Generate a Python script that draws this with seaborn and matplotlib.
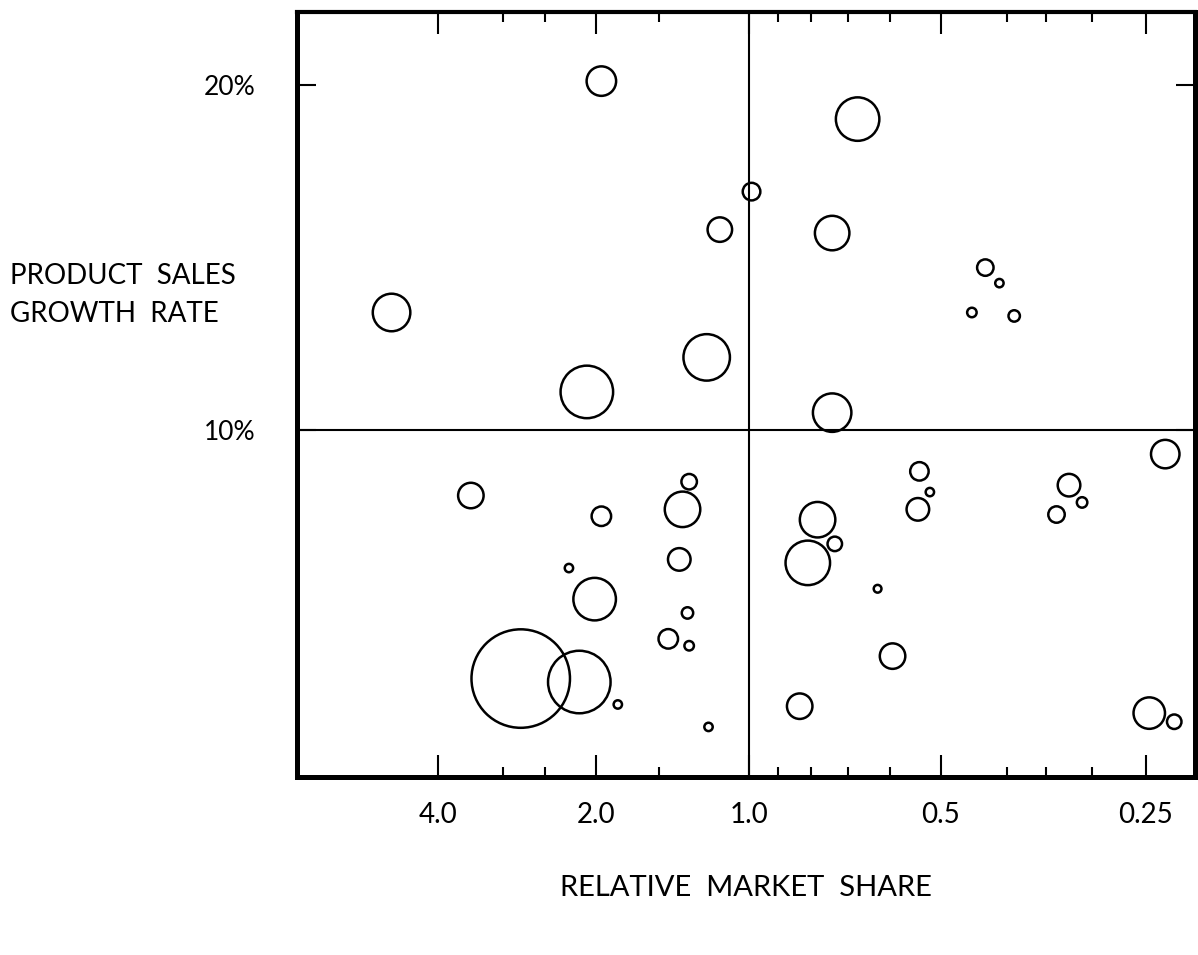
import numpy as np
import pandas as pd
import matplotlib
matplotlib.use("Agg")
import matplotlib.pyplot as plt
import seaborn as sns
from matplotlib.ticker import FixedLocator, FixedFormatter, NullFormatter

"""
Growth-share matrix: product sales growth vs relative market share,
bubble area ~ product sales.
"""

# data
share = [1.95, 0.99, 1.14, 4.9, 2.08, 1.21, 0.675, 0.74, 0.43, 0.41, 0.45, 0.39, 0.74,
         3.46, 1.95, 1.31, 1.35, 1.37, 2.25, 2.01, 1.32, 1.44, 1.31, 2.78, 2.15, 1.81, 1.20,
         0.234, 0.54, 0.52, 0.543, 0.324, 0.31, 0.338, 0.78, 0.733, 0.808, 0.628, 0.595,
         0.832, 0.247, 0.227]
growth = [20.1, 16.9, 15.8, 13.4, 11.1, 12.1, 19.0, 15.7, 14.7, 14.25, 13.4, 13.3, 10.5,
          8.1, 7.5, 8.5, 7.7, 6.25, 6.0, 5.1, 4.7, 3.95, 3.75, 2.8, 2.7, 2.05, 1.4,
          9.3, 8.8, 8.2, 7.7, 8.4, 7.9, 7.55, 7.4, 6.7, 6.15, 5.4, 3.45, 2.0, 1.8, 1.55]
sales = [8.7, 3.1, 6.0, 14.1, 27.6, 21.6, 18.9, 11.9, 2.7, 0.7, 0.9, 1.3, 14.8,
         6.5, 3.8, 2.4, 12.6, 5.1, 0.7, 18.1, 1.3, 3.8, 0.9, 97.0, 39.1, 0.7, 0.7,
         8.1, 3.4, 0.7, 5.1, 5.1, 1.1, 2.7, 12.6, 2.1, 19.8, 0.6, 6.5, 6.5, 9.9, 2.1]

share_ticks = [4.0, 2.0, 1.0, 0.5, 0.25]
share_labels = ["4.0", "2.0", "1.0", "0.5", "0.25"]
share_minor = [3.0, 2.5, 1.5, 0.9, 0.8, 0.7, 0.6, 0.4, 0.35, 0.3]
growth_ticks = [10, 20]
growth_labels = ["10%", "20%"]

df = pd.DataFrame({"share": share, "growth": growth, "sales": sales})

# hand-drawn share axis: roughly log, but each octave has its own length
knot_log2 = np.array([-30.0, -2.0, -1.0, 0.0, 1.0, 2.0, 30.0])
knot_pos = np.array([1146 + 28 * 205, 1146, 941, 749, 596, 438, 438 - 28 * 158], float)


def fwd(x):
    x = np.asarray(x, float)
    with np.errstate(divide="ignore", invalid="ignore"):
        lx = np.log2(np.clip(x, 1e-9, None))
    return -np.interp(lx, knot_log2, knot_pos)


def inv(u):
    u = -np.asarray(u, float)
    return 2.0 ** np.interp(u, knot_pos[::-1], knot_log2[::-1])


sns.set_theme(style="white")
plt.rcParams["font.family"] = ["Lato", "DejaVu Sans"]
plt.rcParams["text.color"] = "black"
plt.rcParams["axes.labelcolor"] = "black"
plt.rcParams["xtick.color"] = "black"
plt.rcParams["ytick.color"] = "black"

fig = plt.figure(figsize=(11.98, 9.55), dpi=100)
ax = fig.add_axes([0.2479, 0.1864, 0.7496, 0.8010])
ax.set_xscale("function", functions=(fwd, inv))

ax.axvline(1.0, color="black", lw=1.5, zorder=1)
ax.axhline(10, color="black", lw=1.5, zorder=1)

sns.scatterplot(data=df, x="share", y="growth", size="sales",
                sizes=(0, 5184), size_norm=(0, 100), legend=False,
                facecolor="none", edgecolor="black", linewidth=1.8,
                ax=ax, zorder=3)

ax.set_xlim(7.42, 0.2116)
ax.set_ylim(-0.05, 22.1)

ax.xaxis.set_major_locator(FixedLocator(share_ticks))
ax.xaxis.set_major_formatter(FixedFormatter(share_labels))
ax.xaxis.set_minor_locator(FixedLocator(share_minor))
ax.xaxis.set_minor_formatter(NullFormatter())
ax.yaxis.set_major_locator(FixedLocator(growth_ticks))
ax.yaxis.set_major_formatter(FixedFormatter(growth_labels))

ax.tick_params(axis="x", which="major", direction="in", length=16, width=1.5,
               top=True, bottom=True, labelsize=20, pad=18)
ax.tick_params(axis="x", which="minor", direction="in", length=7, width=1.5,
               top=True, bottom=True)
ax.tick_params(axis="y", which="major", direction="in", length=14, width=1.5,
               left=True, right=True, labelsize=19, pad=30)

for side, spine in ax.spines.items():
    spine.set_visible(True)
    spine.set_color("black")
    spine.set_linewidth(3.0 if side == "top" else 3.6)

ax.set_xlabel("RELATIVE  MARKET  SHARE", fontsize=21, labelpad=34)
ax.set_ylabel("PRODUCT  SALES\nGROWTH  RATE", fontsize=20, rotation=0,
              ha="left", va="center", linespacing=1.6)
ax.yaxis.set_label_coords(-0.32, 0.63)

fig.savefig("out.png", dpi=100, facecolor="white")
